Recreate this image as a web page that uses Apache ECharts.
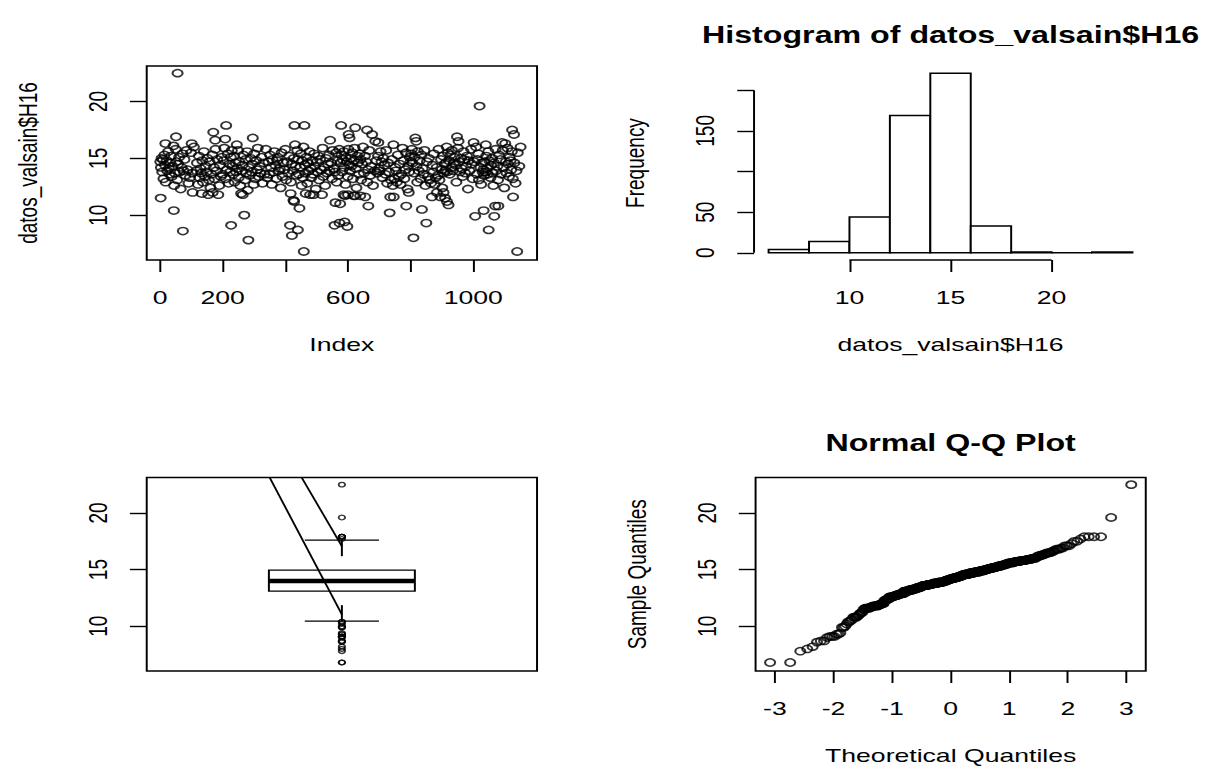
<!DOCTYPE html>
<html><head><meta charset="utf-8">
<script src="https://cdn.jsdelivr.net/npm/echarts/dist/echarts.min.js"></script>
<style>
html,body{margin:0;padding:0;background:#fff;overflow:hidden;width:1225px;height:768px}
#chart{position:absolute;left:0;top:0;width:875px;height:768px;transform:scaleX(1.4);transform-origin:0 0}
</style>
</head><body><div id="chart"></div>
<script>
// ---- observations of datos_valsain$H16: [index, value] ----
const h16Central = [
[1,14.7],[3,14.2],[5,15.0],[7,13.8],[9,14.9],[11,13.2],[14,15.3],[16,14.4],[18,12.9],[21,14.8],[23,13.9],[26,15.6],[28,14.1],[30,13.6],[33,14.6],[35,15.2],[37,13.4],[40,14.3],[45,12.6],[47,13.7],[50,15.8],[53,14.7],[55,13.1],[58,14.5],[61,15.1],[63,13.8],[66,12.3],[69,14.2],[72,15.4],[75,13.9],[78,14.9],[81,13.5],[84,15.7],[88,14.0],[91,12.8],[95,13.3],[99,15.5],[103,13.7],[108,16.0],
[116,13.9],[118,14.6],[121,12.7],[124,15.2],[126,13.3],[129,14.1],[131,13.7],[135,14.8],[137,12.9],[140,15.6],[143,13.4],[146,14.3],[149,13.8],[151,15.0],[156,13.1],[158,14.7],[161,12.4],[164,13.6],[167,15.3],[172,14.2],[174,13.2],[177,15.8],[180,13.9],[183,14.9],[189,12.6],[191,14.4],[194,13.4],[197,15.1],[200,13.6],[203,14.8],[205,15.9],[209,13.2],[213,14.0],[216,15.4],[219,12.8],[221,14.5],[224,13.8],[226,15.1],[229,15.7],
[231,14.3],[234,13.6],[236,15.2],[238,12.9],[241,14.6],[243,13.8],[247,14.1],[249,15.7],[251,13.3],[253,14.7],[256,12.6],[261,13.9],[263,14.4],[266,15.3],[271,13.1],[273,14.9],[275,13.7],[278,15.6],[280,12.2],[284,14.2],[286,13.5],[289,15.0],[292,13.8],[294,14.5],[299,12.7],[301,15.4],[304,13.2],[307,14.8],[310,14.0],[312,15.9],[315,13.4],[318,14.3],[321,13.7],[324,15.1],[327,12.8],[330,14.6],[334,13.6],[338,15.8],[342,13.3],
[346,14.7],[349,13.6],[351,15.3],[354,14.2],[357,12.7],[359,14.9],[362,13.8],[365,15.6],[368,14.4],[371,13.2],[374,14.8],[376,15.1],[379,13.9],[382,14.1],[385,12.4],[388,15.5],[391,13.4],[394,14.6],[397,14.0],[400,15.8],[403,13.1],[406,14.7],[409,13.7],[412,15.2],[418,12.9],[420,14.5],[424,13.9],[427,15.0],[433,14.3],[435,13.5],[438,15.7],[441,14.9],[443,13.6],[447,14.2],[450,15.4],[452,12.6],[454,14.8],[456,13.3],[458,16.0],
[462,14.4],[464,13.7],[467,15.1],[470,12.8],[472,14.6],[475,13.9],[477,15.6],[481,14.1],[483,13.3],[486,14.8],[488,13.6],[492,15.4],[494,14.3],[497,12.3],[500,14.7],[503,13.8],[505,15.2],[508,13.1],[511,14.9],[514,14.0],[519,15.9],[521,13.4],[524,14.2],[527,12.6],[530,15.0],[533,13.7],[536,14.5],[539,15.3],[541,13.9],[546,14.6],[549,13.2],[551,15.7],[554,14.1],[558,13.8],[562,15.5],[564,12.9],[567,14.8],[569,13.5],[572,15.8],
[576,14.6],[579,15.3],[581,13.8],[583,14.9],[587,15.6],[588,14.2],[592,12.7],[593,15.1],[596,14.7],[599,13.4],[601,15.8],[604,14.4],[606,13.9],[609,15.0],[611,14.3],[614,15.5],[616,13.2],[619,14.8],[621,15.9],[625,14.1],[627,12.4],[630,15.2],[632,14.6],[635,13.6],[637,15.4],[640,14.9],[642,13.1],[645,14.5],[648,16.0],[651,13.7],[654,15.2],[658,14.7],[662,12.9],[664,14.0],[668,15.7],[671,13.5],[674,14.3],[680,12.6],[685,13.9],
[691,14.8],[694,13.7],[696,15.2],[699,14.1],[701,13.9],[704,15.6],[707,14.7],[710,13.3],[713,15.0],[716,14.4],[719,13.6],[722,15.7],[725,12.8],[728,14.6],[731,13.8],[737,13.1],[740,14.9],[743,12.6],[748,13.2],[751,14.2],[753,13.9],[756,12.9],[759,15.3],[762,13.4],[765,14.5],[768,12.7],[771,13.6],[774,15.9],[777,14.8],[780,13.2],[783,14.0],[785,15.5],[790,12.3],[792,14.3],[795,13.8],[797,15.1],[800,14.7],[802,15.4],[804,15.8],
[806,14.6],[811,13.7],[813,15.1],[819,14.3],[821,12.9],[823,15.6],[826,13.9],[829,14.8],[832,13.2],[835,15.3],[838,14.1],[841,13.6],[844,15.7],[847,12.6],[852,14.7],[855,13.4],[858,15.0],[861,13.1],[865,12.8],[870,14.4],[872,13.8],[874,15.4],[877,12.7],[880,13.3],[883,14.2],[887,13.5],[889,15.8],[892,13.1],[897,14.9],[899,14.0],[901,12.4],[903,15.2],[906,13.7],[908,14.5],[911,13.9],[913,14.6],[915,16.0],[917,13.8],[919,15.5],
[922,14.8],[925,13.6],[927,15.3],[930,14.2],[932,15.7],[935,13.9],[938,14.6],[940,15.1],[943,14.4],[946,12.9],[951,15.9],[955,14.7],[958,13.8],[961,15.0],[963,14.1],[966,13.4],[969,15.6],[971,14.9],[974,13.7],[977,14.3],[980,15.2],[983,12.3],[985,14.8],[988,13.9],[993,15.8],[995,14.5],[998,13.2],[1003,14.7],[1009,16.0],[1011,13.6],[1013,14.9],[1016,15.4],[1018,13.1],[1023,14.2],[1025,12.7],[1028,14.6],[1030,13.8],[1032,14.0],[1034,13.5],
[1036,14.7],[1039,13.8],[1041,15.2],[1044,14.1],[1046,13.6],[1048,15.6],[1051,14.8],[1055,13.3],[1057,14.4],[1060,15.0],[1062,13.7],[1064,12.6],[1066,14.6],[1071,15.8],[1073,13.9],[1077,14.3],[1079,13.1],[1082,15.3],[1087,14.9],[1089,13.6],[1094,15.7],[1096,14.2],[1099,12.4],[1104,14.7],[1106,13.7],[1109,15.9],[1111,14.5],[1114,13.4],[1116,15.1],[1119,14.8],[1121,14.0],[1123,15.6],[1126,13.2],[1131,14.6],[1135,12.8],[1138,13.9],[1142,15.5],[1147,14.3],[1151,16.0]
];
const h16Outer = [
[459,6.8],[1140,6.8],[282,7.8],[809,8.0],
[421,8.2],[73,8.6],[440,8.7],[1049,8.7],[227,9.1],[415,9.1],[557,9.1],[573,9.3],[589,9.4],[850,9.3],[1006,9.9],[1067,9.9],[269,10.0],[598,9.0],
[44,10.4],[2,11.5],[733,10.2],[786,10.8],[836,10.5],[1033,10.4],[1070,10.8],[1080,10.8],[665,10.8],[445,10.6],
[428,11.2],[575,11.0],[417,11.9],[1127,11.6],[104,12.0],[133,11.9],[154,11.8],[186,11.8],[259,11.9],[264,11.8],
[735,11.6],[746,11.6],[868,11.6],[895,11.6],[916,11.2],[921,10.9],[591,11.7],[618,11.7],[639,11.7],[655,11.6],
[168,12.0],[794,12.0],[884,12.0],[905,12.0],[465,11.9],[479,11.8],[490,11.8],[517,11.8],[560,11.1],[586,11.8],
[600,11.8],[622,11.7],[910,11.5],[426,11.3],
[211,17.9],[170,17.3],[51,16.9],[208,16.7],[296,16.8],[429,17.9],[461,17.9],[578,17.9],[623,17.7],[661,17.5],
[677,17.1],[815,16.8],[818,16.5],[948,16.9],[1124,17.5],[1130,17.1],[17,16.3],[43,16.1],[101,16.3],[176,16.6],
[245,16.2],[431,16.2],[543,16.6],[602,17.1],[605,16.8],[687,16.5],[697,16.4],[745,16.2],[953,16.5],[1092,16.4],
[1102,16.3],[1001,16.4],[1040,16.2],
[1020,19.6],[56,22.5]
];

// ---- histogram ----
const histBreaks = [6,8,10,12,14,16,18,20,22,24];
const histCounts = [4,14,44,169,221,33,1,0,1];

// ---- boxplot statistics: lower whisker, Q1, median, Q3, upper whisker ----
const boxStats = [10.45, 13.1, 14.0, 14.95, 17.6];
// two straight lines drawn across the boxplot panel (data coordinates)
const boxGuideLines = [
  [[0.815, 23.13], [1, 11.03]],
  [[0.897, 23.13], [1, 17.06]]
];

// ---- axis ranges and ticks ----
const indexRange = [-42.5, 1203.5];
const valueRange = [6.05, 23.13];
const histXRange = [5.28, 24.72];
const histYRange = [-8.84, 229.84];
const boxXRange = [0.5, 1.5];
const quantileRange = [-3.33, 3.33];

const indexTicks = [0, 200, 400, 600, 800, 1000];
const indexTickLabels = ['0', '200', '', '600', '', '1000'];
const valueTicks = [10, 15, 20];
const valueTickLabels = ['10', '15', '20'];
const freqTicks = [0, 50, 100, 150, 200];
const freqTickLabels = ['0', '50', '', '150', ''];
const histValueTicks = [10, 15, 20];
const histValueTickLabels = ['10', '15', '20'];
const quantileTicks = [-3, -2, -1, 0, 1, 2, 3];
const quantileTickLabels = ['-3', '-2', '-1', '0', '1', '2', '3'];

// ---- helpers ----
function qnorm(p) {
  const a=[-3.969683028665376e+01,2.209460984245205e+02,-2.759285104469687e+02,1.383577518672690e+02,-3.066479806614716e+01,2.506628277459239e+00];
  const b=[-5.447609879822406e+01,1.615858368580409e+02,-1.556989798598866e+02,6.680131188771972e+01,-1.328068155288572e+01];
  const c=[-7.784894002430293e-03,-3.223964580411365e-01,-2.400758277161838e+00,-2.549671324505017e+00,4.374664141464968e+00,2.938163982698783e+00];
  const d=[7.784695709041462e-03,3.224671290700398e-01,2.445134137142996e+00,3.754408661907416e+00];
  const pl=0.02425, ph=1-pl; let q, r;
  if (p < pl) { q=Math.sqrt(-2*Math.log(p)); return (((((c[0]*q+c[1])*q+c[2])*q+c[3])*q+c[4])*q+c[5])/((((d[0]*q+d[1])*q+d[2])*q+d[3])*q+1); }
  if (p <= ph) { q=p-0.5; r=q*q; return (((((a[0]*r+a[1])*r+a[2])*r+a[3])*r+a[4])*r+a[5])*q/(((((b[0]*r+b[1])*r+b[2])*r+b[3])*r+b[4])*r+1); }
  q=Math.sqrt(-2*Math.log(1-p)); return -(((((c[0]*q+c[1])*q+c[2])*q+c[3])*q+c[4])*q+c[5])/((((d[0]*q+d[1])*q+d[2])*q+d[3])*q+1);
}

const allObs = h16Central.concat(h16Outer);
const sortedVals = allObs.map(d => d[1]).sort((x, y) => x - y);
const nObs = sortedVals.length;
const qqPoints = sortedVals.map((v, i) => [qnorm((i + 0.5) / nObs), v]);
const boxOutliers = allObs.filter(d => d[1] < boxStats[0] || d[1] > boxStats[4]).map(d => [1, d[1]]);
const histData = histCounts.map((c, i) => [histBreaks[i], histBreaks[i + 1], c]);

const FONT = '"Liberation Sans", Arial, Helvetica, sans-serif';
const LW = 1.4;

function mkAxis(gridIndex, range, ticks, labels, isY, extra) {
  const lab = {
    show: !!ticks, customValues: ticks || [], color: '#000', fontSize: 19, fontFamily: FONT,
    formatter: v => { const i = (ticks || []).findIndex(t => Math.abs(t - v) < 1e-9); return i >= 0 ? labels[i] : ''; }
  };
  if (isY) Object.assign(lab, { rotate: 90, align: 'center', verticalAlign: 'middle', margin: 35 });
  else Object.assign(lab, { verticalAlign: 'middle', margin: 37 });
  return Object.assign({
    type: 'value', gridIndex, min: range[0], max: range[1],
    axisLine: { show: false, onZero: false }, splitLine: { show: false },
    axisTick: { show: !!ticks, customValues: ticks || [], length: 12, lineStyle: { color: '#000', width: LW } },
    axisLabel: lab,
    nameLocation: 'middle', nameRotate: isY ? 90 : 0, nameGap: isY ? 85 : 84,
    nameTextStyle: { color: '#000', fontSize: 19, fontFamily: FONT, align: 'center', verticalAlign: 'middle' }
  }, extra || {});
}

const boxGrid = { show: true, borderColor: '#000', borderWidth: LW, backgroundColor: 'transparent' };
const circleStyle = { color: 'rgba(0,0,0,0)', borderColor: '#000', borderWidth: 1.5 };

const option = {
  animation: false,
  backgroundColor: '#fff',
  textStyle: { fontFamily: FONT },
  grid: [
    Object.assign({ left: 104.8, top: 66, width: 278.8, height: 194, outerBoundsMode: 'none' }, boxGrid),
    { left: 538.6, top: 66, width: 280.7, height: 194, show: false, outerBoundsMode: 'none' },
    Object.assign({ left: 104.8, top: 477.5, width: 278.8, height: 193.5, outerBoundsMode: 'none' }, boxGrid),
    Object.assign({ left: 539.7, top: 477.5, width: 278.7, height: 193.5, outerBoundsMode: 'none' }, boxGrid)
  ],
  xAxis: [
    mkAxis(0, indexRange, indexTicks, indexTickLabels, false, { name: 'Index' }),
    mkAxis(1, histXRange, histValueTicks, histValueTickLabels, false, { name: 'datos_valsain$H16' }),
    mkAxis(2, boxXRange, null, null, false, { show: false }),
    mkAxis(3, quantileRange, quantileTicks, quantileTickLabels, false, { name: 'Theoretical Quantiles' })
  ],
  yAxis: [
    mkAxis(0, valueRange, valueTicks, valueTickLabels, true, { name: 'datos_valsain$H16' }),
    mkAxis(1, histYRange, freqTicks, freqTickLabels, true, { name: 'Frequency' }),
    mkAxis(2, valueRange, valueTicks, valueTickLabels, true, {}),
    mkAxis(3, valueRange, valueTicks, valueTickLabels, true, { name: 'Sample Quantiles' })
  ],
  graphic: [
    { type: 'text', x: 679, y: 35, silent: true,
      style: { text: 'Histogram of datos_valsain$H16', fill: '#000', font: 'bold 23px ' + FONT, align: 'center', verticalAlign: 'middle', textAlign: 'center', textVerticalAlign: 'middle' } },
    { type: 'text', x: 679, y: 443, silent: true,
      style: { text: 'Normal Q-Q Plot', fill: '#000', font: 'bold 23px ' + FONT, align: 'center', verticalAlign: 'middle', textAlign: 'center', textVerticalAlign: 'middle' } }
  ],
  series: [
    { type: 'scatter', xAxisIndex: 0, yAxisIndex: 0, data: allObs, symbol: 'circle', symbolSize: 7.2,
      itemStyle: circleStyle, silent: true },
    { type: 'custom', xAxisIndex: 1, yAxisIndex: 1, data: histData, silent: true, clip: false,
      renderItem: (params, api) => {
        const p0 = api.coord([api.value(0), api.value(2)]);
        const p1 = api.coord([api.value(1), 0]);
        return { type: 'rect', shape: { x: p0[0], y: p0[1], width: p1[0] - p0[0], height: p1[1] - p0[1] },
                 style: { fill: '#fff', stroke: '#000', lineWidth: LW } };
      } },
    { type: 'line', xAxisIndex: 1, yAxisIndex: 1, silent: true, clip: false, symbol: 'none',
      data: [[histXRange[0], freqTicks[0]], [histXRange[0], freqTicks[freqTicks.length - 1]]],
      lineStyle: { color: '#000', width: LW } },
    { type: 'line', xAxisIndex: 1, yAxisIndex: 1, silent: true, clip: false, symbol: 'none',
      data: [[histValueTicks[0], histYRange[0]], [histValueTicks[histValueTicks.length - 1], histYRange[0]]],
      lineStyle: { color: '#000', width: LW } },
    { type: 'custom', xAxisIndex: 2, yAxisIndex: 2, data: [[1].concat(boxStats)], silent: true,
      renderItem: (params, api) => {
        const cx = api.value(0), lo = api.value(1), q1 = api.value(2), med = api.value(3), q3 = api.value(4), hi = api.value(5);
        const hw = 0.187, cw = 0.095;
        const seg = (a, b, st) => ({ type: 'line', shape: { x1: a[0], y1: a[1], x2: b[0], y2: b[1] },
          style: Object.assign({ stroke: '#000', lineWidth: LW, fill: null }, st || {}) });
        const tl = api.coord([cx - hw, q3]), br = api.coord([cx + hw, q1]);
        return { type: 'group', children: [
          seg(api.coord([cx, hi]), api.coord([cx, q3]), { lineDash: [16, 16] }),
          seg(api.coord([cx, lo]), api.coord([cx, q1]), { lineDash: [16, 16] }),
          seg(api.coord([cx - cw, hi]), api.coord([cx + cw, hi])),
          seg(api.coord([cx - cw, lo]), api.coord([cx + cw, lo])),
          { type: 'rect', shape: { x: tl[0], y: tl[1], width: br[0] - tl[0], height: br[1] - tl[1] },
            style: { fill: null, stroke: '#000', lineWidth: LW } },
          seg(api.coord([cx - hw, med]), api.coord([cx + hw, med]), { lineWidth: 4.5 })
        ] };
      } },
    { type: 'scatter', xAxisIndex: 2, yAxisIndex: 2, data: boxOutliers, symbol: 'circle', symbolSize: 4.6,
      itemStyle: { color: 'rgba(0,0,0,0)', borderColor: '#000', borderWidth: 1.3 }, silent: true },
    { type: 'line', xAxisIndex: 2, yAxisIndex: 2, data: boxGuideLines[0], symbol: 'none', silent: true,
      lineStyle: { color: '#000', width: LW } },
    { type: 'line', xAxisIndex: 2, yAxisIndex: 2, data: boxGuideLines[1], symbol: 'none', silent: true,
      lineStyle: { color: '#000', width: LW } },
    { type: 'scatter', xAxisIndex: 3, yAxisIndex: 3, data: qqPoints, symbol: 'circle', symbolSize: 7.2,
      itemStyle: circleStyle, silent: true }
  ]
};

const chart = echarts.init(document.getElementById('chart'), null, { renderer: 'svg', width: 875, height: 768 });
chart.setOption(option);
</script>
</body></html>
